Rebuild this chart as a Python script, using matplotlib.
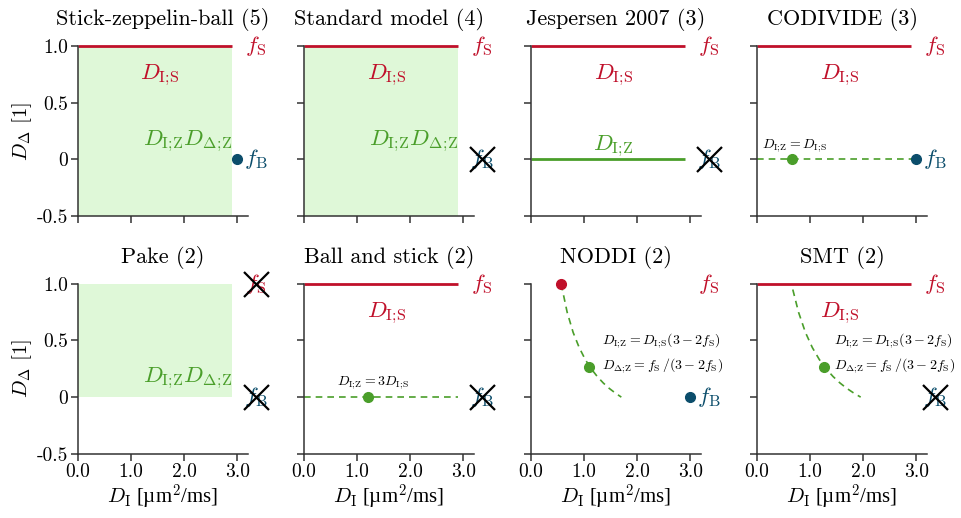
import numpy as np
import matplotlib
matplotlib.use("Agg")
import matplotlib.pyplot as plt

plt.rcParams['font.family'] = ['cmr10', 'DejaVu Serif']
plt.rcParams['mathtext.fontset'] = 'cm'
plt.rcParams['axes.unicode_minus'] = False

RED = '#c0102a'
GREEN = '#4a9e2a'
BLUE = '#0b4d6b'
FILL = '#dff8d8'

titles = ['Stick-zeppelin-ball (5)', 'Standard model (4)', 'Jespersen 2007 (3)', 'CODIVIDE (3)',
          'Pake (2)', 'Ball and stick (2)', 'NODDI (2)', 'SMT (2)']

xticks = [0.0, 1.0, 2.0, 3.0]
xticklabels = ['0.0', '1.0', '2.0', '3.0']
yticks = [1.0, 0.5, 0.0, -0.5]
yticklabels = ['1.0', '0.5', '0', '-0.5']

# free D_I range (upper end) and stick line end
di_max = 2.9
ds_line = [0.0, 2.9]
ball_di = 3.0
label_x = 3.35

# green dots (D_I, D_Delta)
codivide_dot = (0.65, 0.0)
ballstick_dot = (1.2, 0.0)
noddi_stick = (0.567, 1.0)
noddi_dot = (1.10, 0.27)
smt_dot = (1.26, 0.27)

# zeppelin tortuosity curves
noddi_di = [0.567, 0.68, 0.793, 0.907, 1.02, 1.133, 1.247, 1.36, 1.473, 1.587, 1.70]
noddi_dd = [1.0, 0.75, 0.571, 0.4375, 0.333, 0.25, 0.182, 0.125, 0.077, 0.036, 0.0]
smt_di = [0.672, 0.78, 0.91, 1.04, 1.17, 1.30, 1.43, 1.56, 1.69, 1.82, 1.95]
smt_dd = [0.95, 0.75, 0.571, 0.4375, 0.333, 0.25, 0.182, 0.125, 0.077, 0.036, 0.0]

# labels
DIS = r'$D_\mathrm{I;\!S}$'
DIZ = r'$D_\mathrm{I;\!Z}$'
ZEP = r'$D_\mathrm{I;\!Z}D_{\Delta;\!\mathrm{Z}}$'
FS = r'$f_\mathrm{S}$'
FB = r'$f_\mathrm{B}$'

fig = plt.figure(figsize=(9.62, 5.18), dpi=100)
lefts = [0.081, 0.316, 0.552, 0.787]
bottoms = [0.583, 0.124]
w, h = 0.1767, 0.328

axes = []
for r in range(2):
    for c in range(4):
        ax = fig.add_axes([lefts[c], bottoms[r], w, h])
        ax.set_xlim(0, 3.2)
        ax.set_ylim(-0.5, 1.0)
        for s in ['top', 'right']:
            ax.spines[s].set_visible(False)
        for s in ['left', 'bottom']:
            ax.spines[s].set_color('#333333')
            ax.spines[s].set_linewidth(1.1)
        ax.tick_params(direction='out', length=5, width=1.1, color='#333333', labelsize=14, pad=2)
        ax.set_xticks(xticks)
        ax.set_yticks(yticks)
        if r == 1:
            ax.set_xticklabels(xticklabels)
            ax.set_xlabel(r'$D_\mathrm{I}$ [µm$^2$/ms]', fontsize=15, labelpad=1,
                          family='Liberation Serif')
        else:
            ax.set_xticklabels([])
        if c == 0:
            ax.set_yticklabels(yticklabels)
            ax.set_ylabel(r'$D_\Delta$ [1]', fontsize=15, labelpad=2)
        else:
            ax.set_yticklabels([])
        ax.set_title(titles[r * 4 + c], fontsize=16, pad=15)
        axes.append(ax)

kw = dict(fontsize=16.5, ha='center', va='center', clip_on=False)
small = dict(fontsize=10, color='black', clip_on=False)


def stick(ax, label=True):
    ax.plot(ds_line, [1.0, 1.0], color=RED, lw=2, solid_capstyle='butt', clip_on=False)
    ax.text(label_x, 1.0, FS, color=RED, **kw)
    if label:
        ax.text(1.55, 0.74, DIS, color=RED, **kw)


def ball(ax):
    ax.plot([ball_di], [0.0], 'o', color=BLUE, ms=7, clip_on=False, zorder=5)
    ax.text(label_x, 0.0, FB, color=BLUE, **kw)


def crossed(ax, y, lab, col):
    ax.text(label_x, y, lab, color=col, **kw)
    ax.plot([label_x], [y], 'x', color='black', ms=18, mew=1.6, clip_on=False, zorder=6)


def zep_label(ax):
    ax.text(2.9, 0.05, ZEP, color=GREEN, fontsize=16.5, ha='right', va='bottom')


# Stick-zeppelin-ball
ax = axes[0]
ax.fill_between([0, di_max], -0.5, 1.0, color=FILL, lw=0)
stick(ax)
zep_label(ax)
ball(ax)

# Standard model
ax = axes[1]
ax.fill_between([0, di_max], -0.5, 1.0, color=FILL, lw=0)
stick(ax)
zep_label(ax)
crossed(ax, 0.0, FB, BLUE)

# Jespersen 2007
ax = axes[2]
stick(ax)
ax.plot(ds_line, [0.0, 0.0], color=GREEN, lw=2, solid_capstyle='butt')
ax.text(1.55, 0.12, DIZ, color=GREEN, **kw)
crossed(ax, 0.0, FB, BLUE)

# CODIVIDE
ax = axes[3]
stick(ax)
ax.plot([0, ball_di], [0, 0], '--', color=GREEN, lw=1.2, dashes=(4, 3))
ax.plot(*codivide_dot, 'o', color=GREEN, ms=7, zorder=5)
ax.text(0.1, 0.05, r'$D_\mathrm{I;\!Z} = D_\mathrm{I;\!S}$', va='bottom', **small)
ball(ax)

# Pake
ax = axes[4]
ax.fill_between([0, di_max], 0.0, 1.0, color=FILL, lw=0)
zep_label(ax)
crossed(ax, 1.0, FS, RED)
crossed(ax, 0.0, FB, BLUE)

# Ball and stick
ax = axes[5]
stick(ax)
ax.plot(ds_line, [0, 0], '--', color=GREEN, lw=1.2, dashes=(4, 3))
ax.plot(*ballstick_dot, 'o', color=GREEN, ms=7, zorder=5)
ax.text(0.62, 0.05, r'$D_\mathrm{I;\!Z} = 3D_\mathrm{I;\!S}$', va='bottom', **small)
crossed(ax, 0.0, FB, BLUE)

eq1 = r'$D_\mathrm{I;\!Z} = D_\mathrm{I;\!S}(3-2f_\mathrm{S})$'
eq2 = r'$D_{\Delta;\!\mathrm{Z}} = f_\mathrm{S}\,/(3-2f_\mathrm{S})$'

# NODDI
ax = axes[6]
ax.plot(noddi_di, noddi_dd, '--', color=GREEN, lw=1.2, dashes=(4, 3))
ax.plot(*noddi_stick, 'o', color=RED, ms=7, zorder=5, clip_on=False)
ax.plot(*noddi_dot, 'o', color=GREEN, ms=7, zorder=5)
ax.text(label_x, 1.0, FS, color=RED, **kw)
ax.text(1.34, 0.5, eq1, va='center', **small)
ax.text(1.34, 0.28, eq2, va='center', **small)
ball(ax)

# SMT
ax = axes[7]
stick(ax)
ax.plot(smt_di, smt_dd, '--', color=GREEN, lw=1.2, dashes=(4, 3))
ax.plot(*smt_dot, 'o', color=GREEN, ms=7, zorder=5)
ax.text(1.45, 0.5, eq1, va='center', **small)
ax.text(1.45, 0.28, eq2, va='center', **small)
crossed(ax, 0.0, FB, BLUE)

fig.savefig('out.png', dpi=100)
